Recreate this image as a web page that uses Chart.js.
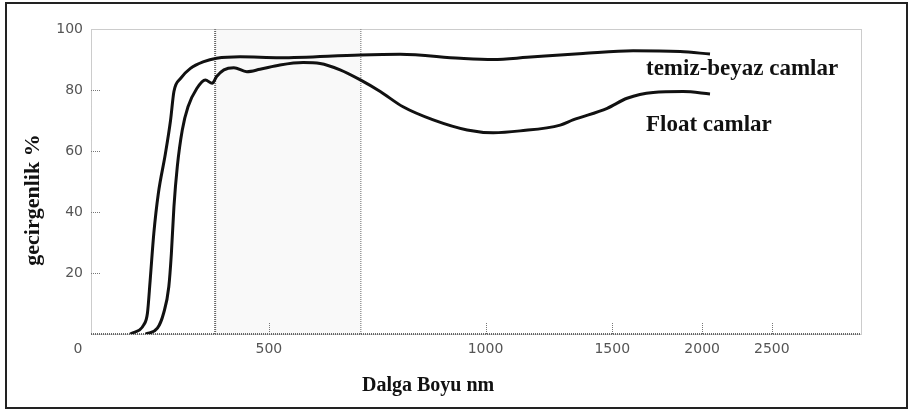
<!DOCTYPE html>
<html lang="tr">
  <head>
    <meta charset="UTF-8" />
    <title>Geçirgenlik - Dalga Boyu</title>
    <style>
      body {
        margin: 0;
        padding: 0;
        background: #fff;
      }
      .wrap {
        position: relative;
        width: 911px;
        height: 411px;
      }
      .frame {
        position: absolute;
        left: 5px;
        top: 2px;
        width: 899px;
        height: 403px;
        border: 2px solid #222;
        pointer-events: none;
      }
      canvas {
        position: absolute;
        left: 0;
        top: 0;
      }
    </style>
  </head>
  <body>
    <div class="wrap">
      <canvas id="glassChart" width="911" height="411"></canvas>
      <div class="frame"></div>
    </div>

    <script src="https://cdn.jsdelivr.net/npm/chart.js"></script>
    <script>
      // dalga boyu (nm) ve geçirgenlik (%) değerleri
      const clearWavelengths = [321, 335, 339, 342, 346, 351, 359, 365, 369, 377, 389, 406, 423, 456, 518, 670, 761, 922, 1025, 1142, 1270, 1366, 1604, 1864, 2051];
      const clearValues = [0, 3, 6.8, 17.7, 33, 46, 59, 70, 79.5, 83.8, 87.1, 89.3, 90.4, 90.9, 90.6, 91.5, 91.7, 90.4, 90, 90.7, 91.5, 92, 92.9, 92.6, 91.8];

      const floatWavelengths = [337, 350, 357, 363, 366, 369, 373, 379, 386, 397, 408, 417, 423, 433, 447, 466, 486, 518, 558, 589, 628, 670, 714, 768, 846, 943, 1025, 1117, 1270, 1323, 1476, 1573, 1710, 1882, 2051];
      const floatValues = [0, 1.9, 6.8, 15.5, 26.4, 41.7, 54.9, 66.9, 74.5, 80.5, 83.3, 82.2, 84.4, 86.6, 87.3, 86, 86.8, 88.2, 89, 88.7, 86.6, 83.3, 79.5, 74.5, 70.2, 66.9, 66, 66.6, 68.5, 70.2, 74, 77.3, 79.2, 79.5, 78.7];

      const xTicks = [500, 1000, 1500, 2000, 2500];
      const yTicks = [0, 20, 40, 60, 80, 100];
      const visibleBand = [421, 670];

      const labelClear = "temiz-beyaz camlar";
      const labelFloat = "Float camlar";
      const xTitle = "Dalga Boyu nm";
      const yTitle = "gecirgenlik %";

      const toPoints = (xs, ys) => xs.map((x, i) => ({ x: x, y: ys[i] }));

      const tickFont = { family: "DejaVu Sans", size: 14 };
      const serifBold = (size) => `bold ${size}px "Liberation Serif", "DejaVu Serif", serif`;

      const decor = {
        id: "decor",
        beforeDatasetsDraw(chart) {
          const { ctx, chartArea: a, scales } = chart;
          const x = scales.x;
          const y = scales.y;
          ctx.save();

          // görünür bölge
          const b0 = x.getPixelForValue(visibleBand[0]);
          const b1 = x.getPixelForValue(visibleBand[1]);
          ctx.fillStyle = "rgba(0, 0, 0, 0.025)";
          ctx.fillRect(b0, a.top, b1 - b0, a.bottom - a.top);

          ctx.setLineDash([1, 1]);
          ctx.strokeStyle = "#666";
          ctx.lineWidth = 2;
          ctx.beginPath();
          ctx.moveTo(b0, a.top);
          ctx.lineTo(b0, a.bottom);
          ctx.stroke();
          ctx.lineWidth = 1;
          ctx.beginPath();
          ctx.moveTo(b1 + 0.5, a.top);
          ctx.lineTo(b1 + 0.5, a.bottom);
          ctx.stroke();

          // çerçeve
          ctx.strokeStyle = "#999";
          ctx.strokeRect(a.left + 0.5, a.top + 0.5, a.right - a.left, a.bottom - a.top);
          ctx.strokeStyle = "#666";
          ctx.lineWidth = 2;
          ctx.beginPath();
          ctx.moveTo(a.left, a.bottom);
          ctx.lineTo(a.right, a.bottom);
          ctx.stroke();

          // içe dönük çentikler
          ctx.lineWidth = 1;
          ctx.strokeStyle = "#777";
          yTicks.forEach((v) => {
            if (v === 0 || v === 100) return;
            const py = Math.round(y.getPixelForValue(v)) + 0.5;
            ctx.beginPath();
            ctx.moveTo(a.left, py);
            ctx.lineTo(a.left + 9, py);
            ctx.stroke();
          });
          xTicks.forEach((v) => {
            const px = Math.round(x.getPixelForValue(v)) + 0.5;
            ctx.beginPath();
            ctx.moveTo(px, a.bottom);
            ctx.lineTo(px, a.bottom - 12);
            ctx.stroke();
          });
          ctx.restore();
        },
        afterDraw(chart) {
          const { ctx, chartArea: a } = chart;
          ctx.save();
          ctx.fillStyle = "#111";
          ctx.textBaseline = "middle";

          ctx.font = serifBold(23);
          ctx.fillText(labelClear, 646, 69);
          ctx.fillText(labelFloat, 646, 125);

          ctx.font = serifBold(20);
          ctx.fillText(xTitle, 362, 386);

          ctx.save();
          ctx.translate(33, 200);
          ctx.rotate(-Math.PI / 2);
          ctx.textAlign = "center";
          ctx.font = serifBold(22);
          ctx.fillText(yTitle, 0, 0);
          ctx.restore();

          // eksen başlangıcı
          ctx.font = `${tickFont.size}px "${tickFont.family}"`;
          ctx.fillStyle = "#555";
          ctx.textAlign = "center";
          ctx.fillText("0", a.left - 13, a.bottom + 15);
          ctx.restore();
        },
      };

      new Chart(document.getElementById("glassChart"), {
        type: "line",
        data: {
          datasets: [
            {
              label: labelClear,
              data: toPoints(clearWavelengths, clearValues),
              borderColor: "#111",
              borderWidth: 3,
              pointRadius: 0,
              cubicInterpolationMode: "monotone",
            },
            {
              label: labelFloat,
              data: toPoints(floatWavelengths, floatValues),
              borderColor: "#111",
              borderWidth: 3,
              pointRadius: 0,
              cubicInterpolationMode: "monotone",
            },
          ],
        },
        options: {
          responsive: false,
          animation: false,
          layout: { padding: { top: 29, right: 50, left: 0, bottom: 0 } },
          plugins: {
            legend: { display: false },
            tooltip: { enabled: false },
          },
          scales: {
            x: {
              type: "logarithmic",
              min: 283,
              max: 3325,
              afterBuildTicks: (s) => {
                s.ticks = xTicks.map((v) => ({ value: v }));
              },
              afterFit: (s) => {
                s.height = 77;
              },
              ticks: {
                callback: (v) => String(v),
                color: "#555",
                font: tickFont,
                padding: 7,
                maxRotation: 0,
                autoSkip: false,
              },
              grid: { display: false, drawTicks: false },
              border: { display: false },
            },
            y: {
              min: 0,
              max: 100,
              afterBuildTicks: (s) => {
                s.ticks = yTicks.map((v) => ({ value: v }));
              },
              afterFit: (s) => {
                s.width = 91;
              },
              ticks: {
                callback: (v) => (v === 0 ? "" : String(v)),
                color: "#555",
                font: tickFont,
                padding: 8,
              },
              grid: { display: false, drawTicks: false },
              border: { display: false },
            },
          },
        },
        plugins: [decor],
      });
    </script>
  </body>
</html>
